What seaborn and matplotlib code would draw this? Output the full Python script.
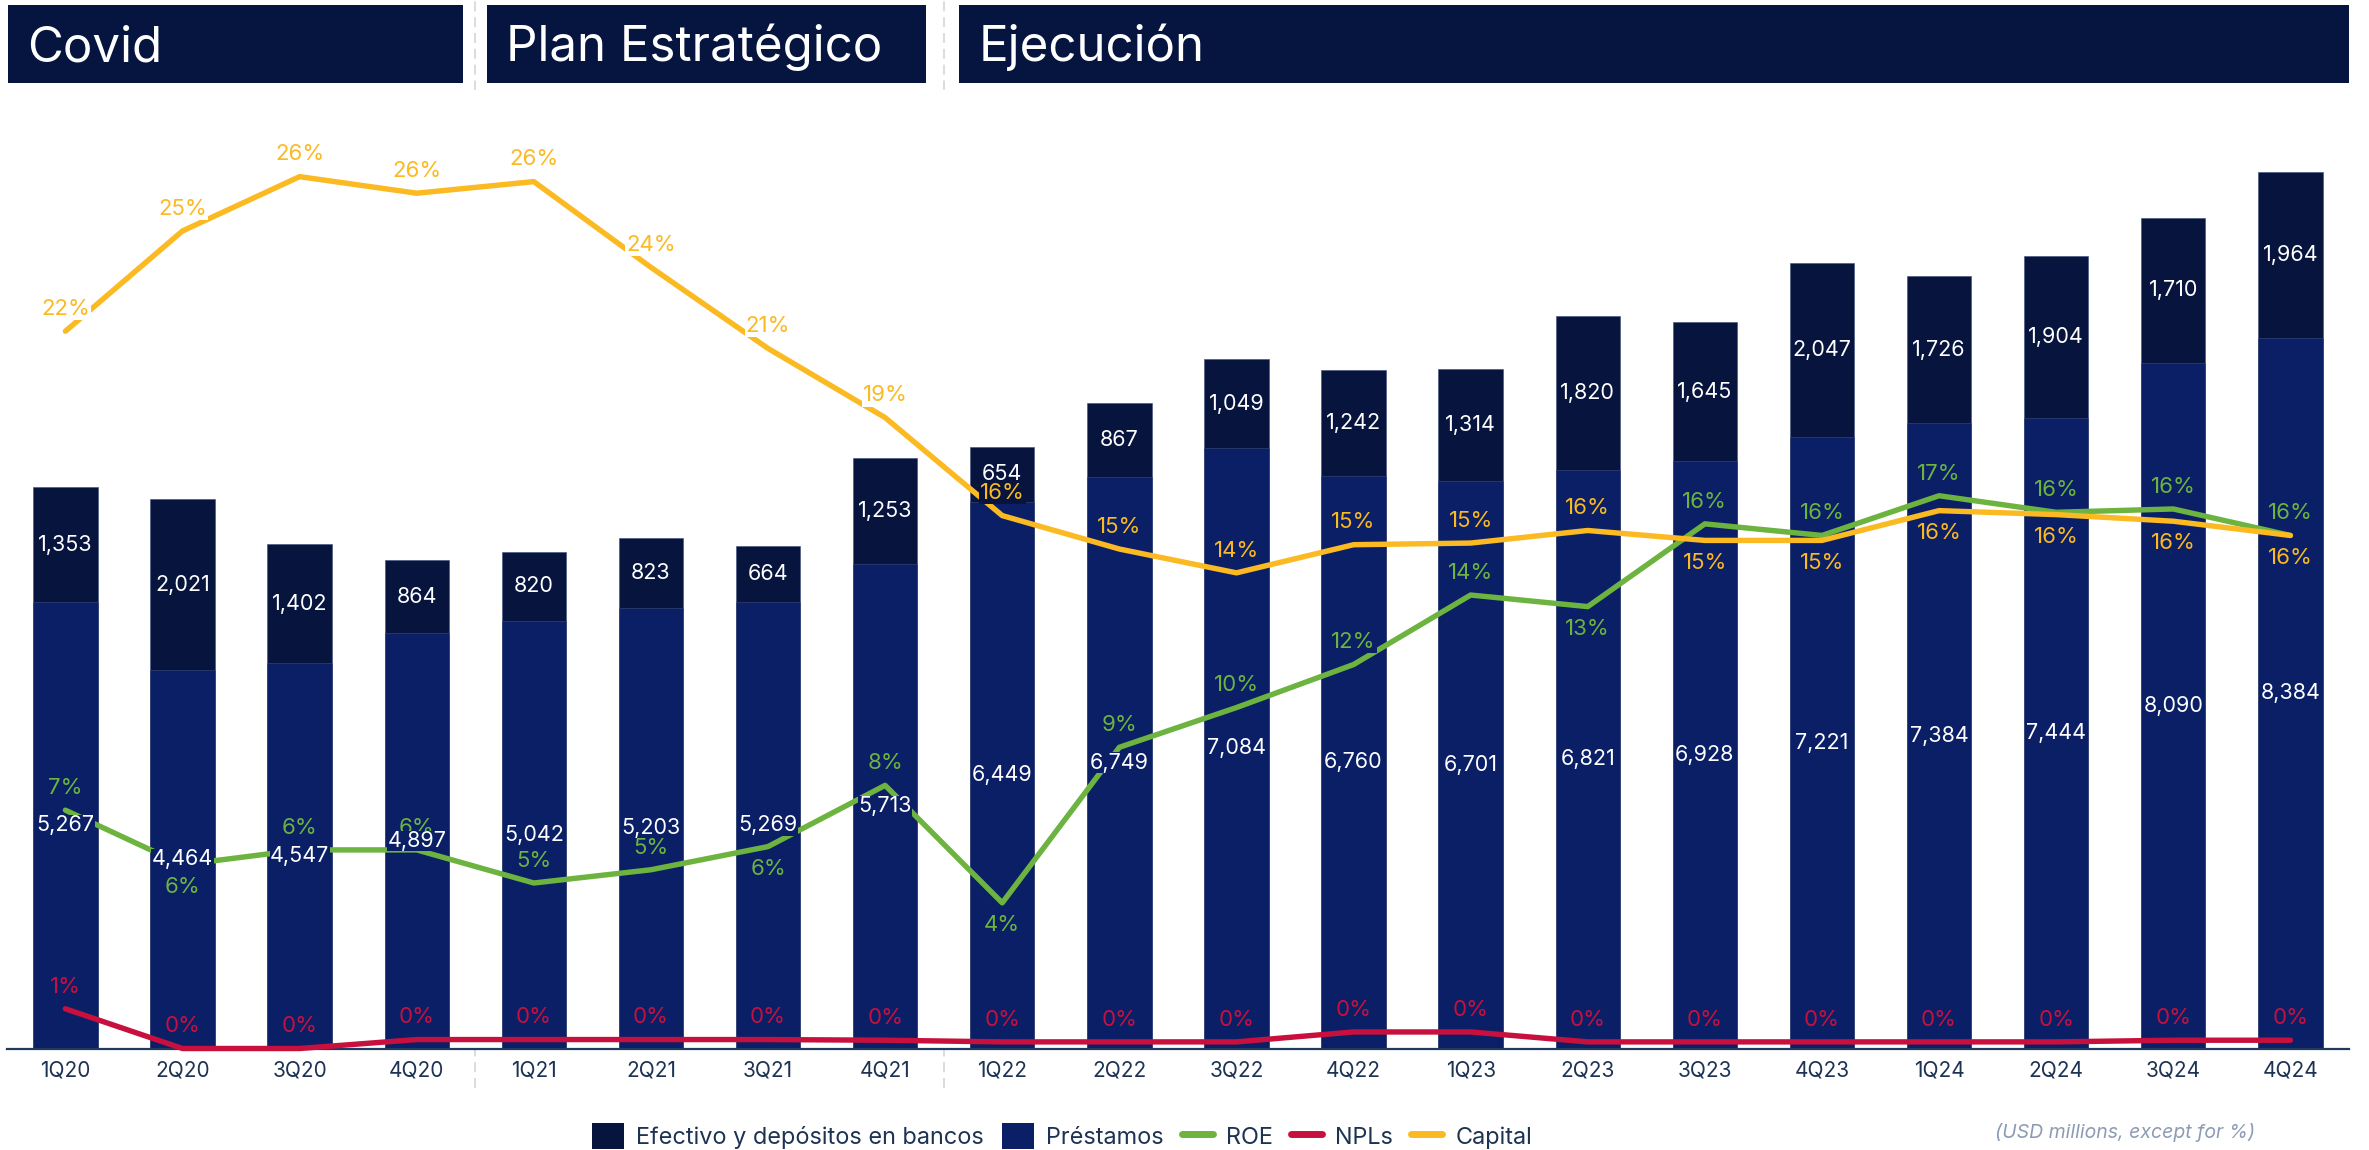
import numpy as np
import pandas as pd
import matplotlib
matplotlib.use("Agg")
import matplotlib.pyplot as plt
import matplotlib.transforms as mtransforms
from matplotlib.patches import Rectangle, Patch
from matplotlib.lines import Line2D
import seaborn as sns

# ---------------- data ----------------
quarters = ["1Q20", "2Q20", "3Q20", "4Q20", "1Q21", "2Q21", "3Q21", "4Q21",
            "1Q22", "2Q22", "3Q22", "4Q22", "1Q23", "2Q23", "3Q23", "4Q23",
            "1Q24", "2Q24", "3Q24", "4Q24"]
cash = [1353, 2021, 1402, 864, 820, 823, 664, 1253, 654, 867,
        1049, 1242, 1314, 1820, 1645, 2047, 1726, 1904, 1710, 1964]
loans = [5267, 4464, 4547, 4897, 5042, 5203, 5269, 5713, 6449, 6749,
         7084, 6760, 6701, 6821, 6928, 7221, 7384, 7444, 8090, 8384]
roe = [7.2, 5.55, 6.0, 6.0, 5.0, 5.4, 6.1, 7.95, 4.4, 9.1,
       10.3, 11.6, 13.7, 13.35, 15.85, 15.5, 16.7, 16.2, 16.3, 15.5]
npl = [1.2, 0.0, 0.0, 0.27, 0.27, 0.27, 0.27, 0.25, 0.2, 0.2,
       0.2, 0.5, 0.5, 0.2, 0.2, 0.2, 0.2, 0.2, 0.25, 0.25]
capital = [21.67, 24.7, 26.34, 25.84, 26.19, 23.6, 21.15, 19.06, 16.1, 15.09,
           14.37, 15.22, 15.27, 15.65, 15.35, 15.35, 16.25, 16.13, 15.93, 15.5]
# label side: 1 = above the point, -1 = below
roe_side = [1, -1, 1, 1, 1, 1, -1, 1, -1, 1, 1, 1, 1, -1, 1, 1, 1, 1, 1, 1]
cap_side = [1] * 14 + [-1] * 6
npl_side = [1] * 20

periods = ["Covid", "Plan Estratégico", "Ejecución"]
legend_labels = ["Efectivo y depósitos en bancos", "Préstamos", "ROE", "NPLs", "Capital"]
note = "(USD millions, except for %)"

# ---------------- style ----------------
C_CASH = "#06143e"
C_LOAN = "#0a1f66"
C_HEAD = "#061540"
C_ROE = "#6db33f"
C_NPL = "#c8103e"
C_CAP = "#fbb922"
C_TXT = "#1d3354"

sns.set_theme(style="white")
plt.rcParams["font.family"] = ["Inter", "DejaVu Sans"]

W, H = 2369, 1150
fig = plt.figure(figsize=(W / 100, H / 100), dpi=100)
fig.patch.set_facecolor("white")

base_px = 1048.5
top_px = 90.0
ax = fig.add_axes([6.85 / W, 1 - base_px / H, 2342.1 / W, (base_px - top_px) / H])

df = pd.DataFrame({"q": quarters,
                   "total": np.array(loans) + np.array(cash),
                   "loans": loans})

sns.barplot(data=df, x="q", y="total", color=C_CASH, saturation=1, width=0.55,
            errorbar=None, ax=ax, edgecolor="#3c4c7c", linewidth=0.4)
sns.barplot(data=df, x="q", y="loans", color=C_LOAN, saturation=1, width=0.55,
            errorbar=None, ax=ax, edgecolor="#3c4c7c", linewidth=0.4)

px_per_unit = 0.08475
px_per_pct = 33.1
bar_top = (base_px - top_px) / px_per_unit
pct_top = (base_px - top_px) / px_per_pct

ax2 = ax.twinx()
x = np.arange(len(quarters))
for vals, col in [(roe, C_ROE), (npl, C_NPL), (capital, C_CAP)]:
    sns.lineplot(x=x, y=vals, ax=ax2, color=col, linewidth=3.9, legend=False,
                 solid_joinstyle="round", solid_capstyle="round", clip_on=False,
                 zorder=3)

ax.set_xlim(-0.5, len(quarters) - 0.5)
ax.set_ylim(0, bar_top)
ax2.set_ylim(0, pct_top)
for a in (ax, ax2):
    a.set_yticks([])
    a.set_ylabel("")
    a.set_xlabel("")
    for s in ("left", "right", "top"):
        a.spines[s].set_visible(False)
ax2.spines["bottom"].set_visible(False)
ax.spines["bottom"].set_color("#1f3a5f")
ax.spines["bottom"].set_linewidth(1.6)
ax.tick_params(axis="x", length=0, pad=9, labelsize=15, labelcolor=C_TXT)

# percent labels
off_pt = 16
def bg_color(i, v, side):
    py = ax2.transData.transform((i, v))[1] + side * off_pt * 100 / 72
    yb = ax.transData.inverted().transform((0, py))[1]
    total = loans[i] + cash[i]
    if yb > total:
        return "white"
    if yb > loans[i]:
        return C_CASH
    return C_LOAN

for vals, sides, col in [(npl, npl_side, C_NPL), (roe, roe_side, C_ROE), (capital, cap_side, C_CAP)]:
    for i, (v, sd) in enumerate(zip(vals, sides)):
        bc = bg_color(i, v, sd)
        ax2.annotate(f"{round(v)}%", (i, v), xytext=(0, off_pt * sd),
                     textcoords="offset points", ha="center", va="center",
                     color=col, fontsize=16, zorder=5,
                     bbox=dict(boxstyle="square,pad=0.05", fc=bc, ec="none"))

# bar value labels
for i in range(len(quarters)):
    ax2.text(i, loans[i] / 2, f"{loans[i]:,}", transform=ax.transData,
             ha="center", va="center", color="white", fontsize=15.5, zorder=6,
             bbox=dict(boxstyle="square,pad=0.02", fc=C_LOAN, ec="none"))
    ax2.text(i, loans[i] + cash[i] / 2, f"{cash[i]:,}", transform=ax.transData,
             ha="center", va="center", color="white", fontsize=15.5, zorder=4)

# period separators
blend = mtransforms.blended_transform_factory(ax.transData, fig.transFigure)
for xs in (3.5, 7.5):
    fig.add_artist(Line2D([xs, xs], [1 - 1088 / H, 1.0], transform=blend,
                          color="#d6d6d6", lw=1.2, linestyle=(0, (6, 3.5)), zorder=0))

# header boxes
boxes = [(7.5, 462.5), (486.5, 925.7), (959.0, 2348.5)]
for (x0, x1), name in zip(boxes, periods):
    fig.add_artist(Rectangle((x0 / W, 1 - 82.7 / H), (x1 - x0) / W, (82.7 - 5) / H,
                             transform=fig.transFigure, fc=C_HEAD, ec="none", zorder=1))
    fig.text((x0 + 20) / W, 1 - 61 / H, name, ha="left", va="baseline",
             color="white", fontsize=35.5, zorder=2)

# legend
handles = [Patch(fc=C_CASH, ec="none"), Patch(fc=C_LOAN, ec="none"),
           Line2D([], [], color=C_ROE, lw=5, solid_capstyle="round"),
           Line2D([], [], color=C_NPL, lw=5, solid_capstyle="round"),
           Line2D([], [], color=C_CAP, lw=5, solid_capstyle="round")]
fig.legend(handles, legend_labels, loc="center", bbox_to_anchor=(1062 / W, 1 - 1136 / H),
           ncol=5, frameon=False, fontsize=16.9, handlelength=1.35, handleheight=1.3,
           handletextpad=0.55, columnspacing=0.75, labelcolor=C_TXT, borderpad=0)

fig.text(2255 / W, 1 - 1133 / H, note, ha="right", va="center", style="italic",
         color="#8d9bb6", fontsize=14)

fig.savefig("out.png", dpi=100, facecolor="white")
